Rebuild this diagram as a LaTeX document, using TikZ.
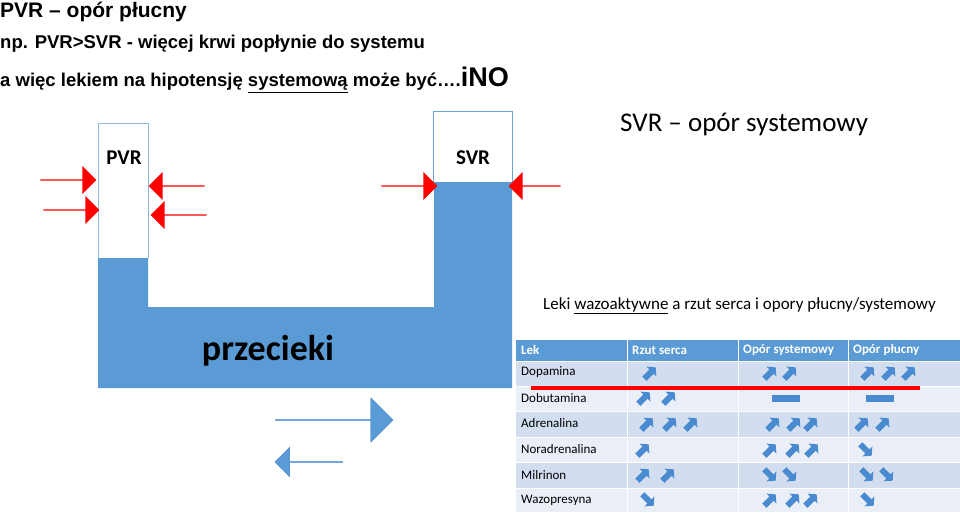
\documentclass[tikz,border=0pt]{standalone}
\usepackage{fontspec}
\setmainfont{Liberation Sans}
\newfontfamily\calib{Carlito}
\usetikzlibrary{shapes.arrows}
\definecolor{fillb}{HTML}{5B9BD5}
\definecolor{hdr}{HTML}{5B9BD5}
\definecolor{rowa}{HTML}{D2DEEF}
\definecolor{rowb}{HTML}{EAEFF7}
\definecolor{arr}{HTML}{4A8AD0}
\tikzset{
 red arrow/.style={fill=red,draw=none,single arrow,minimum height=#1,minimum width=28pt,single arrow head extend=5pt,inner sep=0pt,single arrow tip angle=90},
 blue arrow/.style={fill=fillb,draw=arr,single arrow,inner sep=0pt},
 cell/.style={anchor=west,font=\calib\fontsize{13}{13}\selectfont,inner sep=0pt},
 hcell/.style={cell,text=white,font=\calib\bfseries\fontsize{13}{13}\selectfont},
 pics/up/.style={code={\fill[arr,rotate=45] (-8,-3)--(2,-3)--(2,-7)--(8,0)--(2,7)--(2,3)--(-8,3)--cycle;}},
 pics/dn/.style={code={\fill[arr,rotate=-45] (-8,-3)--(2,-3)--(2,-7)--(8,0)--(2,7)--(2,3)--(-8,3)--cycle;}},
}
\begin{document}
\begin{tikzpicture}[x=1pt,y=-1pt]
\useasboundingbox (0,0) rectangle (960,514);
% titles
\node[anchor=west,inner sep=0pt,font=\bfseries\fontsize{21}{21}\selectfont] (t1) at (0,12) {PVR – opór płucny};
\node[anchor=west,inner sep=0pt,font=\bfseries\fontsize{18.5}{18.5}\selectfont] (t2) at (0,44) {np. PVR>SVR - więcej krwi popłynie do systemu};
\node[anchor=west,inner sep=0pt,font=\bfseries\fontsize{18.5}{18.5}\selectfont] (t3) at (0,80) {a więc lekiem na hipotensję \underline{systemową} może być….{\fontsize{27}{27}\selectfont iNO}};
\node[anchor=west,inner sep=0pt,font=\calib\fontsize{27}{27}\selectfont] (t4) at (620,124) {SVR – opór systemowy};
% vessel
\fill[fillb] (98,258)--(148,258)--(148,307)--(434,307)--(434,182)--(512,182)--(512,388)--(98,388)--cycle;
\draw[fillb!70,line width=0.8pt] (98,258)--(98,123)--(148,123)--(148,258);
\draw[cyan!60!blue!60,line width=0.8pt] (433,182)--(433,111)--(512,111)--(512,182);
\node[font=\calib\bfseries\fontsize{21}{21}\selectfont] (pvr) at (124,158) {PVR};
\node[font=\calib\bfseries\fontsize{21}{21}\selectfont] (svr) at (473,158) {SVR};
\node[font=\calib\bfseries\fontsize{36}{36}\selectfont] (prz) at (268,351) {przecieki};
% red arrows
\node[red arrow=56pt] (r1) at (68,180) {};
\node[red arrow=56pt] (r2) at (71,210) {};
\node[red arrow=56pt,shape border rotate=180] (r3) at (177,186) {};
\node[red arrow=56pt,shape border rotate=180] (r4) at (179,215) {};
\node[red arrow=56pt] (r5) at (409,186) {};
\node[red arrow=52pt,shape border rotate=180] (r6) at (535,186) {};
% blue flow arrows
\node[blue arrow,minimum height=118pt,minimum width=45pt,single arrow head extend=11pt] (b1) at (334,420) {};
\node[blue arrow,minimum height=68pt,minimum width=30pt,single arrow head extend=7pt,shape border rotate=180] (b2) at (309,462) {};
% table
\node[anchor=west,inner sep=0pt,font=\calib\fontsize{17}{17}\selectfont] (tt) at (543,306) {Leki \underline{wazoaktywne} a rzut serca i opory płucny/systemowy};
\fill[hdr] (516,340) rectangle (960,361);
\foreach \t/\b/\c in {361/386/rowa,386/411/rowb,411/437/rowa,437/462/rowb,462/488/rowa,488/512/rowb}
  \fill[\c] (516,\t) rectangle (960,\b);
\foreach \x in {627,738,848} \draw[white,line width=1pt] (\x,340)--(\x,512);
\foreach \y in {361,386,411,437,462,488} \draw[white,line width=1pt] (516,\y)--(960,\y);
\node[hcell] (h1) at (521,350) {Lek};
\node[hcell] (h2) at (632,350) {Rzut serca};
\node[hcell] (h3) at (743,350) {Opór systemowy};
\node[hcell] (h4) at (853,350) {Opór płucny};
\node[cell] (c1) at (521,372) {Dopamina};
\node[cell] (c2) at (521,398) {Dobutamina};
\node[cell] (c3) at (521,423) {Adrenalina};
\node[cell] (c4) at (521,449) {Noradrenalina};
\node[cell] (c5) at (521,475) {Milrinon};
\node[cell] (c6) at (521,500) {Wazopresyna};
\foreach \x/\y in {650/373,770/373,790/373,868/373,889/373,909/373,
  644/398,669/398, 647/424,670/424,691/424,773/424,794/424,811/424,862/424,883/424,
  643/450,770/450,793/450,812/450, 643/475,668/475, 770/500,793/500,811/500}
  \pic at (\x,\y) {up};
\foreach \x/\y in {866/450,770/475,790/475,867/475,887/475,648/500,868/500}
  \pic at (\x,\y) {dn};
\fill[arr] (772,395) rectangle (800,402);
\fill[arr] (866,395) rectangle (894,402);
\draw[red,line width=3.5pt] (531,388)--(920,388);
\end{tikzpicture}
\end{document}
